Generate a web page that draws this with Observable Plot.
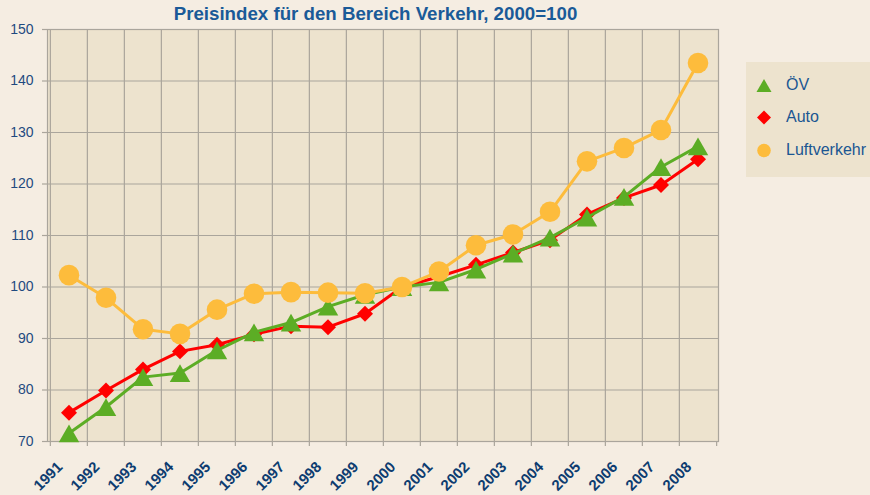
<!DOCTYPE html>
<html><head><meta charset="utf-8">
<script src="https://cdn.jsdelivr.net/npm/d3@7"></script>
<script src="https://cdn.jsdelivr.net/npm/@observablehq/plot@0.6"></script>
<style>
body{margin:0;background:#f5ede2;font-family:"Liberation Sans",Arial,sans-serif;}
#wrap{position:relative;width:870px;height:495px;overflow:hidden;}
#title{position:absolute;left:0;width:751px;top:5px;line-height:1;text-align:center;font-weight:bold;font-size:18.7px;color:#1a5a98;}
#chart{position:absolute;left:0;top:0;}
#legend{position:absolute;left:746px;top:62px;width:130px;height:115px;background:#ede3ce;}
.item{position:absolute;left:0;height:20px;display:flex;align-items:center;font-size:16px;color:#1a5692;}
.item svg{margin-left:10px;margin-right:14px;}
</style></head>
<body>
<div id="wrap">
  <div id="chart"></div>
  <div id="title">Preisindex für den Bereich Verkehr, 2000=100</div>
  <div id="legend"></div>
</div>
<script>
const years = ["1991","1992","1993","1994","1995","1996","1997","1998","1999","2000","2001","2002","2003","2004","2005","2006","2007","2008"];
const oev  = [71.6, 76.7, 82.5, 83.3, 87.7, 91.2, 93.1, 96.2, 98.5, 100, 100.9, 103.4, 106.5, 109.6, 113.5, 117.5, 123.3, 127.3];
const auto = [75.6, 79.9, 84.0, 87.5, 88.8, 90.8, 92.4, 92.2, 94.8, 100, 102.0, 104.3, 106.7, 109.1, 114.1, 117.3, 119.8, 124.8];
const luft = [102.3, 97.9, 91.8, 90.9, 95.6, 98.7, 99.0, 98.9, 98.8, 100, 103.0, 108.1, 110.2, 114.6, 124.4, 127.0, 130.5, 143.5];
const seriesNames = ["ÖV", "Auto", "Luftverkehr"];
const yTicks = [70, 80, 90, 100, 110, 120, 130, 140, 150];

const colors = {"ÖV": "#5cad25", "Auto": "#ff0000", "Luftverkehr": "#fdbc3c"};
const symbols = {"ÖV": "triangle", "Auto": "diamond2", "Luftverkehr": "circle"};
const radii = {"ÖV": 7.6, "Auto": 7.2, "Luftverkehr": 10.3};
const dys = {"ÖV": 3, "Auto": 0, "Luftverkehr": 0};
const values = {"ÖV": oev, "Auto": auto, "Luftverkehr": luft};

const W = 870, H = 495, mL = 47, mR = 152, mT = 29, mB = 54;
const bw = (W - mL - mR) / years.length;
const grid = "#aaa59c";

const drawOrder = ["Auto", "ÖV", "Luftverkehr"];
const seriesMarks = drawOrder.flatMap(name => {
  const rows = years.map((yr, i) => ({year: yr, value: values[name][i]}));
  return [
    Plot.line(rows, {x: "year", y: "value", stroke: colors[name], strokeWidth: 3, strokeLinejoin: "round"}),
    Plot.dot(rows, {x: "year", y: "value", symbol: symbols[name], r: radii[name], fill: colors[name], stroke: "none", dy: dys[name]})
  ];
});

const chart = Plot.plot({
  width: W, height: H,
  marginLeft: mL, marginRight: mR, marginTop: mT, marginBottom: mB,
  style: {background: "transparent", fontFamily: "Liberation Sans, Arial, sans-serif", overflow: "visible"},
  x: {type: "band", domain: years, padding: 0, label: null},
  y: {domain: [70, 150], label: null},
  marks: [
    Plot.frame({fill: "#ede3ce"}),
    Plot.gridY({ticks: yTicks, stroke: grid, strokeOpacity: 1, strokeWidth: 1.2}),
    Plot.gridX({ticks: years, dx: -bw / 2, stroke: grid, strokeOpacity: 1, strokeWidth: 1.2}),
    Plot.axisX({ticks: years, dx: -bw / 2, tickSize: 5, tickFormat: () => "", stroke: grid, strokeWidth: 1.2}),
    Plot.axisX({ticks: [years[years.length - 1]], dx: bw / 2, tickSize: 5, tickFormat: () => "", stroke: grid, strokeWidth: 1.2}),
    Plot.frame({stroke: grid, strokeWidth: 1.2}),
    Plot.axisY({ticks: yTicks, tickSize: 5, tickPadding: 9, fontSize: 14, fill: "#1f4a80", stroke: grid, strokeWidth: 1.2}),
    Plot.axisX({ticks: years, tickSize: 0, tickRotate: -45, tickPadding: 23, dx: -9, fontSize: 15, fontWeight: "bold", fill: "#0d3c70", tickFormat: d => d}),
    ...seriesMarks
  ]
});
document.getElementById("chart").appendChild(chart);

// legend
const legend = document.getElementById("legend");
const legendTops = {"ÖV": 13, "Auto": 45, "Luftverkehr": 78};
const legendShapes = {
  "ÖV": `<polygon points="8,1 15.5,14 0.5,14" fill="${colors["ÖV"]}"/>`,
  "Auto": `<polygon points="8,0.5 15,7.5 8,14.5 1,7.5" fill="${colors["Auto"]}"/>`,
  "Luftverkehr": `<circle cx="8" cy="7.5" r="6.8" fill="${colors["Luftverkehr"]}"/>`
};
for (const name of seriesNames) {
  const div = document.createElement("div");
  div.className = "item";
  div.style.top = legendTops[name] + "px";
  div.innerHTML = `<svg width="16" height="15" viewBox="0 0 16 15">${legendShapes[name]}</svg><span>${name}</span>`;
  legend.appendChild(div);
}
</script>
</body></html>
